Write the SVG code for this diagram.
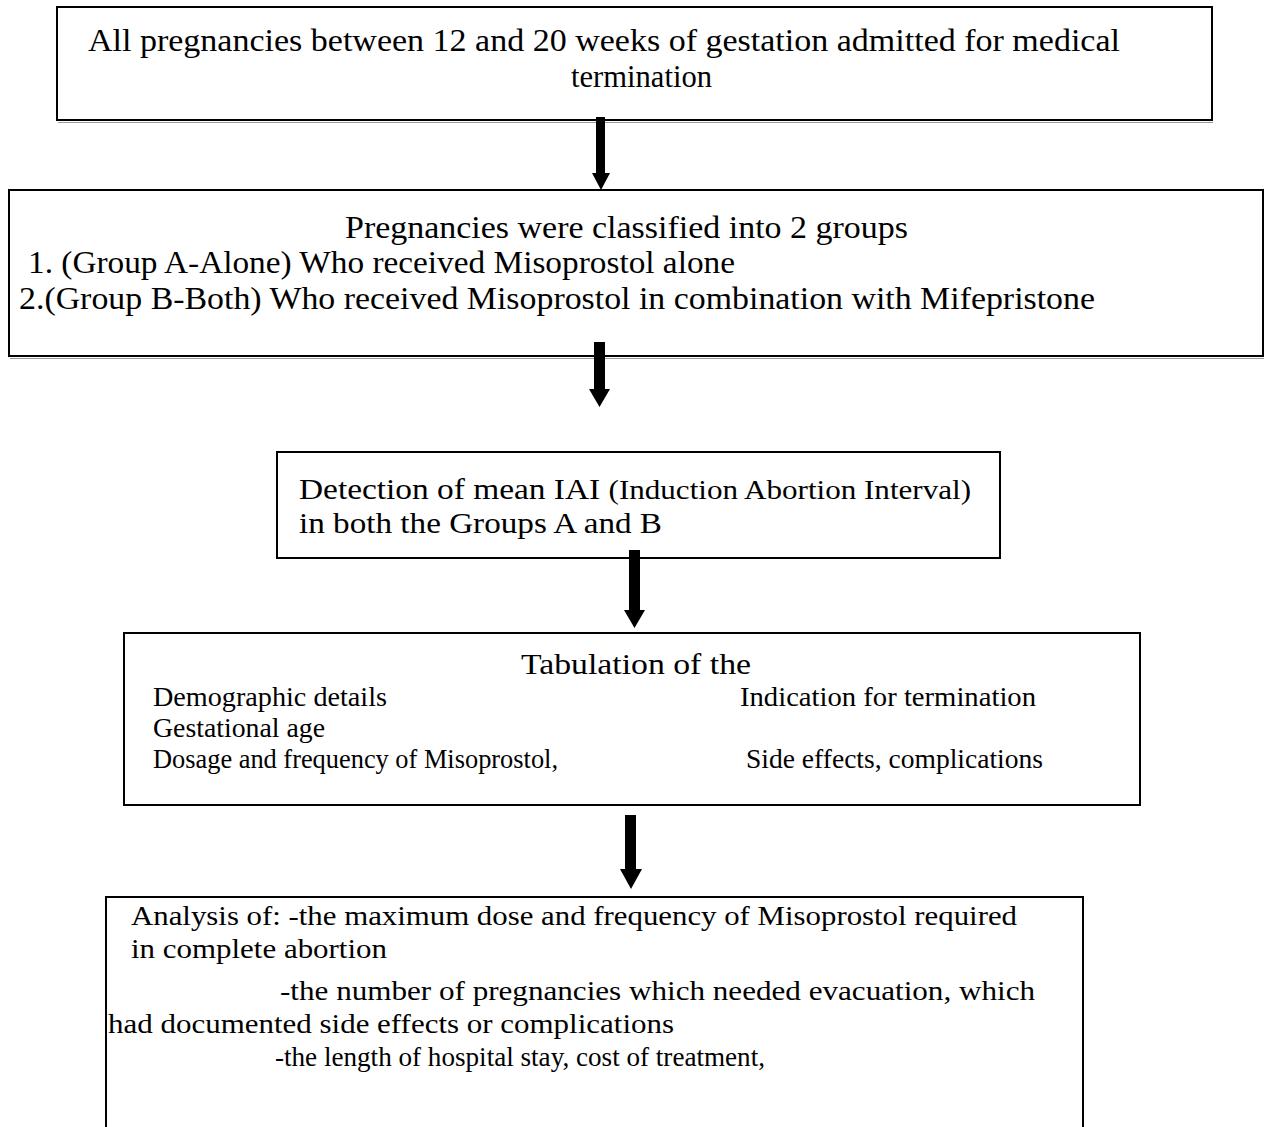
<svg xmlns="http://www.w3.org/2000/svg" width="1265" height="1127" viewBox="0 0 1265 1127">
<style>
.box{fill:#fff;stroke:#000;stroke-width:2}
.sh{stroke:#9a9a9a;stroke-width:1;fill:none}
.t{font-family:"Liberation Serif","DejaVu Serif",serif;fill:#000}
.f31{font-size:31px}
.f29{font-size:29px}
.f28{font-size:28px}
.f27{font-size:27px}
.arr{fill:#000}
</style>
<rect width="1265" height="1127" fill="#fff"/>
<g id="node1">
<rect class="box" x="57" y="7" width="1155" height="113"/>
<path class="sh" d="M58 122.5 H1213"/>
<text class="t f31" x="88" y="51" textLength="1032" lengthAdjust="spacingAndGlyphs">All pregnancies between 12 and 20 weeks of gestation admitted for medical</text>
<text class="t f31" x="571" y="87" textLength="141" lengthAdjust="spacingAndGlyphs">termination</text>
</g>
<g id="node2">
<rect class="box" x="9" y="190" width="1254" height="166"/>
<path class="sh" d="M10 358.5 H1264"/>
<text class="t f31" x="345" y="238" textLength="563" lengthAdjust="spacingAndGlyphs">Pregnancies were classified into 2 groups</text>
<text class="t f31" x="28" y="273" textLength="707" lengthAdjust="spacingAndGlyphs">1. (Group A-Alone) Who received Misoprostol alone</text>
<text class="t f31" x="19" y="309" textLength="1076" lengthAdjust="spacingAndGlyphs">2.(Group B-Both) Who received Misoprostol in combination with Mifepristone</text>
</g>
<g id="node3">
<rect class="box" x="277" y="452" width="723" height="106"/>
<text class="t f29" x="299" y="499" textLength="672" lengthAdjust="spacingAndGlyphs">Detection of mean IAI <tspan font-size="27">(Induction Abortion Interval)</tspan></text>
<text class="t f29" x="299" y="533" textLength="363" lengthAdjust="spacingAndGlyphs">in both the Groups A and B</text>
</g>
<g id="node4">
<rect class="box" x="124" y="633" width="1016" height="172"/>
<text class="t f29" x="521" y="674" textLength="230" lengthAdjust="spacingAndGlyphs">Tabulation of the</text>
<text class="t f27" x="153" y="706" textLength="234" lengthAdjust="spacingAndGlyphs">Demographic details</text>
<text class="t f27" x="740" y="706" textLength="296" lengthAdjust="spacingAndGlyphs">Indication for termination</text>
<text class="t f27" x="153" y="737" textLength="172" lengthAdjust="spacingAndGlyphs">Gestational age</text>
<text class="t f27" x="153" y="768" textLength="405" lengthAdjust="spacingAndGlyphs">Dosage and frequency of Misoprostol,</text>
<text class="t f27" x="746" y="768" textLength="297" lengthAdjust="spacingAndGlyphs">Side effects, complications</text>
</g>
<g id="node5">
<path d="M106 1127 V897 H1083 V1127" fill="#fff" stroke="#000" stroke-width="2"/>
<text class="t f28" x="131" y="925" textLength="886" lengthAdjust="spacingAndGlyphs">Analysis of: -the maximum dose and frequency of Misoprostol required</text>
<text class="t f28" x="131" y="958" textLength="256" lengthAdjust="spacingAndGlyphs">in complete abortion</text>
<text class="t f28" x="280" y="1000" textLength="755" lengthAdjust="spacingAndGlyphs">-the number of pregnancies which needed evacuation, which</text>
<text class="t f28" x="108" y="1033" textLength="566" lengthAdjust="spacingAndGlyphs">had documented side effects or complications</text>
<text class="t f28" x="275" y="1066" textLength="490" lengthAdjust="spacingAndGlyphs">-the length of hospital stay, cost of treatment,</text>
</g>
<g id="connectors">
<path class="arr" d="M596 117 H605 V173 H610 L601 190 L592 173 H596 Z"/>
<path class="arr" d="M594 342 H605 V389 H610 L599.5 407 L589 389 H594 Z"/>
<path class="arr" d="M629 550 H640 V610 H645 L634.5 628 L624 610 H629 Z"/>
<path class="arr" d="M625 815 H636 V869 H642 L631 889 L620 869 H625 Z"/>
</g>
</svg>
